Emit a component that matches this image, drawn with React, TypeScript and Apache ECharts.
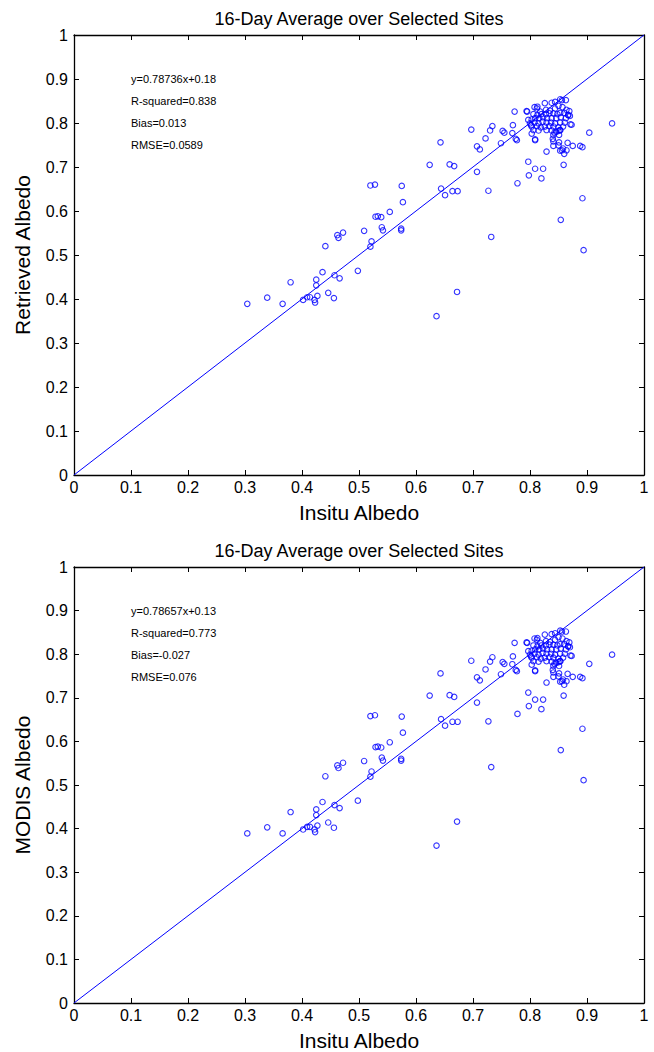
import React, { useEffect, useRef } from "react";
import * as echarts from "echarts";

// Insitu albedo (x) for each site/period
const insituAlbedo = [
  0.304, 0.339, 0.366, 0.380, 0.402, 0.409, 0.414, 0.422, 0.423, 0.427, 0.425, 0.425, 0.436, 0.446, 0.456, 0.457,
  0.466, 0.441, 0.462, 0.464, 0.472, 0.498, 0.509, 0.520, 0.522, 0.520, 0.528, 0.529, 0.533, 0.539, 0.540, 0.542,
  0.554, 0.575, 0.577, 0.574, 0.574, 0.624, 0.643, 0.644, 0.651, 0.659, 0.667, 0.664, 0.673, 0.672, 0.636,
  0.697, 0.707, 0.712, 0.707, 0.727, 0.732, 0.722, 0.730, 0.734, 0.749, 0.752, 0.755, 0.773, 0.770, 0.769, 0.775,
  0.777, 0.778, 0.795, 0.797, 0.798, 0.809, 0.823, 0.820, 0.829, 0.809, 0.854, 0.859, 0.860, 0.892, 0.894, 0.904,
  0.944, 0.875, 0.888, 0.892, 0.866, 0.851, 0.840, 0.841, 0.841, 0.853, 0.858, 0.843, 0.850, 0.853, 0.871, 0.867,
  0.794, 0.808, 0.853, 0.869, 0.870, 0.873, 0.802, 0.803, 0.809, 0.856, 0.864, 0.850, 0.797,
  0.813, 0.826, 0.838, 0.844, 0.856, 0.863,
  0.812, 0.818, 0.828, 0.835, 0.844, 0.850, 0.857, 0.864,
  0.806, 0.813, 0.820, 0.828, 0.834, 0.841, 0.848, 0.853, 0.860, 0.867,
  0.803, 0.809, 0.816, 0.823, 0.830, 0.838, 0.846, 0.854, 0.863,
  0.800, 0.808, 0.815, 0.822, 0.829, 0.837, 0.844, 0.853, 0.861,
  0.803, 0.812, 0.819, 0.826, 0.834, 0.841, 0.850, 0.858,
  0.806, 0.815, 0.829, 0.838, 0.846, 0.853,
  0.841, 0.851,
];

// Retrieved albedo (y) for the same sites
const retrievedAlbedo = [
  0.389, 0.403, 0.389, 0.438, 0.398, 0.404, 0.404, 0.398, 0.392, 0.407, 0.444, 0.431, 0.461, 0.414, 0.402, 0.454,
  0.447, 0.520, 0.545, 0.539, 0.551, 0.464, 0.555, 0.519, 0.531, 0.658, 0.660, 0.587, 0.588, 0.586, 0.563, 0.556,
  0.598, 0.657, 0.620, 0.560, 0.556, 0.705, 0.756, 0.651, 0.636, 0.706, 0.702, 0.645, 0.645, 0.416, 0.361,
  0.785, 0.747, 0.740, 0.689, 0.646, 0.541, 0.765, 0.783, 0.793, 0.754, 0.782, 0.778, 0.826, 0.795, 0.777, 0.764,
  0.761, 0.663, 0.826, 0.712, 0.681, 0.696, 0.696, 0.674, 0.735, 0.761, 0.580, 0.705, 0.730, 0.629, 0.511, 0.778,
  0.799, 0.748, 0.748, 0.745, 0.755, 0.756, 0.764, 0.758, 0.748, 0.737, 0.742, 0.778, 0.782, 0.784, 0.797, 0.818,
  0.827, 0.836, 0.854, 0.827, 0.816, 0.796, 0.795, 0.776, 0.763, 0.738, 0.738, 0.749, 0.807,
  0.837, 0.845, 0.846, 0.848, 0.852, 0.852,
  0.833, 0.826, 0.830, 0.828, 0.833, 0.839, 0.836, 0.830,
  0.820, 0.818, 0.820, 0.820, 0.822, 0.822, 0.820, 0.823, 0.823, 0.818,
  0.808, 0.811, 0.811, 0.813, 0.811, 0.811, 0.811, 0.813, 0.811,
  0.799, 0.801, 0.799, 0.803, 0.801, 0.801, 0.799, 0.801, 0.801,
  0.792, 0.793, 0.790, 0.792, 0.793, 0.792, 0.790, 0.792,
  0.784, 0.783, 0.784, 0.783, 0.780, 0.784,
  0.773, 0.773,
];

// MODIS albedo: the reference shows the same point cloud as the retrieved panel
const modisAlbedo = [...retrievedAlbedo];

const oneToOne = [0, 1];

const panelTitles = ["16-Day Average over Selected Sites", "16-Day Average over Selected Sites"];
const xNames = ["Insitu Albedo", "Insitu Albedo"];
const yNames = ["Retrieved Albedo", "MODIS Albedo"];
const statsTop = ["y=0.78736x+0.18", "R-squared=0.838", "Bias=0.013", "RMSE=0.0589"];
const statsBottom = ["y=0.78657x+0.13", "R-squared=0.773", "Bias=-0.027", "RMSE=0.076"];

const FONT = "'Liberation Sans', Arial, Helvetica, sans-serif";
const BLUE = "#0000ff";

export default function App() {
  const ref = useRef<HTMLDivElement>(null);

  useEffect(() => {
    if (!ref.current) return;
    const chart = echarts.init(ref.current, undefined, { renderer: "svg" });

    const grids = [
      { left: 74, top: 35, width: 570, height: 440 },
      { left: 74, top: 567, width: 570, height: 440 },
    ];
    const yData = [retrievedAlbedo, modisAlbedo];
    const stats = [statsTop, statsBottom];

    const xAxes: any[] = [];
    const yAxes: any[] = [];
    const series: any[] = [];
    const graphics: any[] = [];

    grids.forEach((g, i) => {
      const common = {
        gridIndex: i,
        type: "value",
        min: 0,
        max: 1,
        interval: 0.1,
        splitLine: { show: false },
        axisLine: { show: true, onZero: false, lineStyle: { color: "#000", width: 1.3 } },
        axisTick: { show: true, inside: true, length: 5, lineStyle: { color: "#000", width: 1 } },
      };
      xAxes.push({
        ...common,
        position: "bottom",
        axisLabel: { show: true, color: "#000", fontSize: 16, fontFamily: FONT, margin: 4 },
        name: xNames[i],
        nameLocation: "middle",
        nameGap: 27,
        nameTextStyle: { color: "#000", fontSize: 21, fontFamily: FONT },
      });
      xAxes.push({ ...common, position: "top", axisLabel: { show: false } });
      yAxes.push({
        ...common,
        position: "left",
        axisLabel: { show: true, color: "#000", fontSize: 16, fontFamily: FONT, margin: 6 },
        name: yNames[i],
        nameLocation: "middle",
        nameGap: 41,
        nameTextStyle: { color: "#000", fontSize: 21, fontFamily: FONT },
      });
      yAxes.push({ ...common, position: "right", axisLabel: { show: false } });

      series.push({
        type: "line",
        xAxisIndex: 2 * i,
        yAxisIndex: 2 * i,
        data: oneToOne.map((v) => [v, v]),
        showSymbol: false,
        symbol: "none",
        lineStyle: { color: BLUE, width: 1 },
        silent: true,
      });
      series.push({
        type: "scatter",
        xAxisIndex: 2 * i,
        yAxisIndex: 2 * i,
        data: insituAlbedo.map((x, k) => [x, yData[i][k]]),
        symbol: "circle",
        symbolSize: 5.5,
        itemStyle: { color: "rgba(0,0,0,0)", borderColor: BLUE, borderWidth: 1.1 },
      });

      graphics.push({
        type: "text",
        x: g.left + g.width / 2,
        y: g.top - 16,
        style: {
          text: panelTitles[i],
          fill: "#000",
          font: `18px ${FONT}`,
          align: "center",
          verticalAlign: "middle",
        },
      });
      stats[i].forEach((s, k) => {
        graphics.push({
          type: "text",
          x: g.left + 57,
          y: g.top + 44 + 22 * k,
          style: {
            text: s,
            fill: "#000",
            font: `11px ${FONT}`,
            align: "left",
            verticalAlign: "middle",
          },
        });
      });
    });

    chart.setOption({
      animation: false,
      backgroundColor: "#fff",
      grid: grids,
      xAxis: xAxes,
      yAxis: yAxes,
      series,
      graphic: graphics,
    });

    return () => chart.dispose();
  }, []);

  return (
    <div
      ref={ref}
      style={{ position: "fixed", left: 0, top: 0, width: 654, height: 1052, background: "#fff" }}
    />
  );
}
